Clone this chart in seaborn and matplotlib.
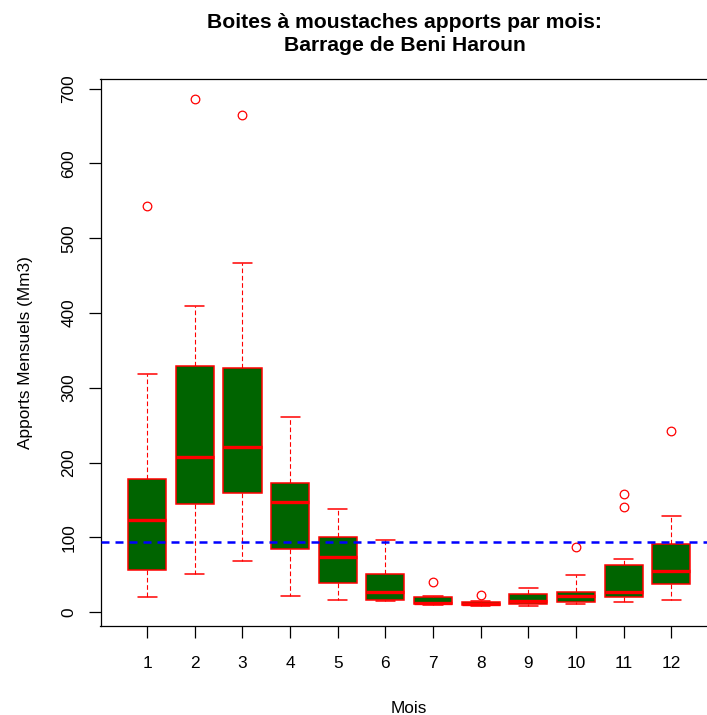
import numpy as np
import pandas as pd
import matplotlib
matplotlib.use("Agg")
import matplotlib.pyplot as plt
import seaborn as sns

# ---- data ----
months = ["1", "2", "3", "4", "5", "6", "7", "8", "9", "10", "11", "12"]
whisker_low = [19.7, 50.8, 68.6, 21.8, 15.6, 14.3, 10.0, 8.0, 7.6, 10.7, 13.0, 15.6]
q1 = [56.2, 144.5, 159.6, 83.9, 39.2, 16.5, 10.7, 9.4, 10.3, 13.0, 19.7, 37.0]
median = [123.0, 207.7, 220.3, 147.0, 73.6, 26.8, 12.0, 11.1, 14.7, 21.4, 26.8, 54.8]
q3 = [178.3, 329.0, 326.4, 172.0, 100.0, 50.8, 19.7, 13.4, 24.1, 26.8, 63.3, 91.4]
whisker_high = [318.8, 409.0, 466.8, 260.4, 137.8, 95.9, 21.0, 14.3, 32.1, 49.5, 71.3, 128.8]
outlier_month = ["1", "2", "3", "7", "8", "10", "11", "11", "12"]
outlier_value = [543.5, 686.0, 665.0, 40.5, 23.2, 86.5, 158.5, 140.6, 241.7]
mean_value = 93.6
yticks = [0, 100, 200, 300, 400, 500, 600, 700]

title = "Boites à moustaches apports par mois:\nBarrage de Beni Haroun"
xlabel = "Mois"
ylabel = "Apports Mensuels (Mm3)"

rows = []
for m, a, b, c, d, e in zip(months, whisker_low, q1, median, q3, whisker_high):
    for v in (a, b, c, d, e):
        rows.append((m, v))
df = pd.DataFrame(rows, columns=["Mois", "Apports"])

sns.set_style("ticks")
plt.rcParams["font.family"] = ["Liberation Sans", "DejaVu Sans"]

W, H = 707, 715
fig = plt.figure(figsize=(W / 100, H / 100), dpi=100)
left, right, bottom, top = 100.5, 100.5 + 617.4, 625.7, 79.0
ax = fig.add_axes([left / W, (H - bottom) / H, (right - left) / W, (bottom - top) / H])

sns.boxplot(
    data=df, x="Mois", y="Apports", order=months, whis=(0, 100), width=0.8,
    showfliers=False, color="#006400", linecolor="red", saturation=1,
    linewidth=1.1, ax=ax,
    boxprops=dict(facecolor="#006400", edgecolor="red", linewidth=1.1),
    medianprops=dict(color="red", linewidth=2.4),
    whiskerprops=dict(color="red", linewidth=0.8, linestyle=(0, (4.2, 2.4))),
    capprops=dict(color="red", linewidth=1.1),
)

ox = [months.index(m) for m in outlier_month]
ax.plot(ox, outlier_value, "o", mfc="none", mec="red", ms=6.2, mew=0.9, zorder=5)

ax.axhline(mean_value, color="blue", lw=1.8, ls=(0, (3.2, 2.4)), zorder=6)

ax.set_xlim(-0.98, 11.98)
ax.set_ylim(-18.3, 713)
ax.set_yticks(yticks)
ax.set_yticklabels([str(t) for t in yticks], rotation=90, va="center")
ax.set_xticks(range(len(months)))
ax.set_xticklabels(months)

for s in ax.spines.values():
    s.set_visible(True)
    s.set_color("black")
    s.set_linewidth(0.9)
ax.tick_params(direction="out", length=8.5, width=0.9, color="black",
               labelsize=12.4, labelcolor="black")
ax.tick_params(axis="x", pad=13)
ax.tick_params(axis="y", pad=9)

ax.set_xlabel(xlabel, fontsize=12.4, labelpad=22, color="black")
ax.set_ylabel(ylabel, fontsize=12.4, labelpad=20, color="black")
ax.set_title(title, fontsize=15.2, fontweight="bold", linespacing=1.3, pad=20,
             color="black", x=0.493)

fig.savefig("out.png", dpi=100)
